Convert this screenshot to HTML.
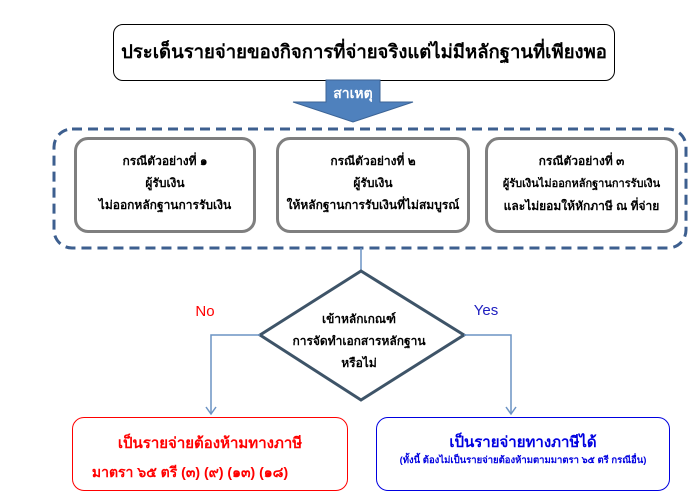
<!DOCTYPE html><html><head><meta charset="utf-8"><style>
body{margin:0;background:#fff;width:698px;height:497px;position:relative;overflow:hidden;font-family:"Liberation Sans","Noto Sans CJK SC",sans-serif}
.a{position:absolute;box-sizing:border-box;text-align:center;white-space:nowrap}
.g{border:3px solid #7f7f7f;border-radius:14px;font-size:12px;font-weight:bold;line-height:22px;padding-top:10px}
</style></head><body>
<div class="a" style="left:113px;top:24px;width:502px;height:57px;border:1.5px solid #000;border-radius:10px;font-size:18.5px;font-weight:bold;line-height:54px">ประเด็นรายจ่ายของกิจการที่จ่ายจริงแต่ไม่มีหลักฐานที่เพียงพอ</div>
<svg class="a" style="left:0;top:0" width="698" height="497">
<polygon points="326,80 380,80 380,102 413,102 353,122 293,102 326,102" fill="#4f81bd" stroke="#3c6496"/>
<rect x="54" y="129" width="632" height="119" rx="18" fill="none" stroke="#3d5f8f" stroke-width="3" stroke-dasharray="10,6"/>
<line x1="361" y1="248" x2="361" y2="271" stroke="#6b93c4" stroke-width="1.5"/>
<polygon points="361,271 464,335 361,400 260,335" fill="#fff" stroke="#3e5468" stroke-width="3"/>
<polyline points="260,335 211,335 211,414" fill="none" stroke="#6b93c4" stroke-width="1.5"/>
<polyline points="206,407 211,414 216,407" fill="none" stroke="#6b93c4" stroke-width="1.5"/>
<polyline points="464,335 511,335 511,414" fill="none" stroke="#6b93c4" stroke-width="1.5"/>
<polyline points="506,407 511,414 516,407" fill="none" stroke="#6b93c4" stroke-width="1.5"/>
</svg>
<div class="a" style="left:325px;top:83px;width:56px;color:#fff;font-size:14px;font-weight:bold">สาเหตุ</div>
<div class="a g" style="left:74px;top:137px;width:182px;height:96px">กรณีตัวอย่างที่ ๑<br>ผู้รับเงิน<br>ไม่ออกหลักฐานการรับเงิน</div>
<div class="a g" style="left:276px;top:137px;width:194px;height:96px">กรณีตัวอย่างที่ ๒<br>ผู้รับเงิน<br>ให้หลักฐานการรับเงินที่ไม่สมบูรณ์</div>
<div class="a g" style="left:485px;top:137px;width:193px;height:96px">กรณีตัวอย่างที่ ๓<br><span style="font-size:11px">ผู้รับเงินไม่ออกหลักฐานการรับเงิน</span><br>และไม่ยอมให้หักภาษี ณ ที่จ่าย</div>
<div class="a" style="left:284px;top:308px;width:150px;font-size:12px;font-weight:bold;line-height:22px">เข้าหลักเกณฑ์<br>การจัดทำเอกสารหลักฐาน<br>หรือไม่</div>
<div class="a" style="left:190px;top:303px;width:30px;color:#f00;font-size:15px">No</div>
<div class="a" style="left:469px;top:302px;width:34px;color:#2020c0;font-size:15px">Yes</div>
<div class="a" style="left:72px;top:417px;width:276px;height:74px;border:1px solid #f00;border-radius:12px;color:#f00;font-weight:bold;padding-top:12px;font-size:15px;line-height:28px">เป็นรายจ่ายต้องห้ามทางภาษี<br><span style="font-size:14px;position:relative;left:-20px">มาตรา ๖๕ ตรี (๓) (๙) (๑๓) (๑๘)</span></div>
<div class="a" style="left:376px;top:417px;width:294px;height:74px;border:1px solid #0000e0;border-radius:12px;color:#0000e0;font-weight:bold;padding-top:14px;font-size:15px;line-height:22px">เป็นรายจ่ายทางภาษีได้<br><span style="font-size:9.5px;line-height:14px;display:block">(ทั้งนี้ ต้องไม่เป็นรายจ่ายต้องห้ามตามมาตรา ๖๕ ตรี กรณีอื่น)</span></div>
</body></html>
